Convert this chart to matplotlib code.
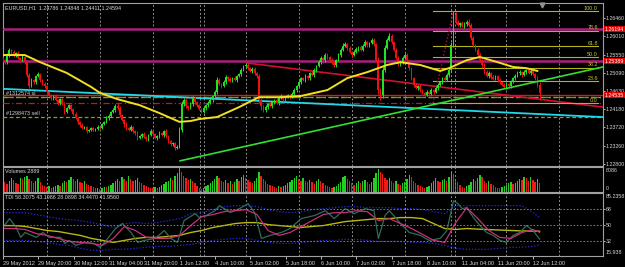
import matplotlib
matplotlib.use('Agg')
import matplotlib.pyplot as plt
import matplotlib.transforms as mtransforms
import numpy as np

#------------------------------------------------------------------------------
# Data (EURUSD H1, prices in pips * 1e-4)
#------------------------------------------------------------------------------
first_open = 12545
closes = [12541,12536,12552,12567,12562,12554,12559,12547,12541,12549,
          12536,12504,12476,12491,12486,12501,12506,12491,12481,12476,
          12461,12453,12446,12451,12441,12433,12443,12431,12411,12421,
          12428,12418,12406,12396,12386,12378,12371,12373,12363,12366,
          12371,12366,12368,12373,12371,12381,12386,12396,12401,12411,
          12416,12426,12421,12403,12391,12381,12371,12366,12373,12363,
          12358,12345,12350,12355,12348,12343,12353,12363,12355,12345,
          12350,12358,12353,12363,12350,12338,12330,12333,12320,12323,
          12366,12431,12441,12426,12421,12431,12446,12436,12428,12418,
          12411,12421,12428,12433,12441,12451,12461,12491,12481,12476,
          12486,12499,12494,12489,12496,12491,12501,12506,12516,12526,
          12529,12521,12514,12519,12509,12501,12441,12426,12416,12423,
          12431,12426,12436,12441,12433,12446,12451,12443,12448,12453,
          12448,12456,12466,12476,12486,12496,12491,12501,12496,12509,
          12504,12516,12526,12536,12547,12541,12554,12549,12541,12534,
          12529,12541,12554,12567,12577,12582,12572,12562,12554,12562,
          12569,12574,12567,12577,12587,12579,12584,12592,12582,12541,
          12466,12453,12516,12572,12592,12602,12587,12567,12547,12531,
          12536,12547,12554,12541,12521,12496,12479,12471,12476,12466,
          12459,12453,12461,12456,12466,12461,12471,12479,12486,12496,
          12491,12504,12516,12579,12655,12637,12629,12634,12627,12632,
          12637,12629,12597,12579,12567,12554,12541,12529,12511,12501,
          12509,12499,12494,12501,12491,12486,12479,12474,12481,12476,
          12486,12496,12501,12509,12511,12504,12511,12516,12509,12514,
          12506,12496,12479,12459]
upper_wick = [4,3,6,5,3,4,2,5,3,4,3,5,4,6,3,4,5,3,2,4,
              3,2,4,3,5,2,3,4,6,3,4,2,3,5,3,2,4,3,2,3,
              2,3,2,4,3,2,3,5,4,3,6,5,7,4,3,2,4,3,5,2,
              3,4,2,3,5,3,2,4,3,2,3,4,2,3,4,3,2,3,2,4,
              6,8,5,4,3,5,6,4,3,2,3,4,3,5,4,3,6,8,4,3,
              5,6,3,4,3,5,4,3,5,4,5,4,3,5,4,3,6,4,3,5,
              3,4,3,2,4,3,5,3,2,4,3,4,5,3,6,4,3,5,4,3,
              4,5,3,6,4,3,6,4,3,5,4,3,5,4,6,5,3,4,3,5,
              4,3,5,4,6,3,4,5,4,3,8,6,9,6,5,7,4,3,5,4,
              3,5,6,4,3,4,3,5,3,4,3,2,4,3,5,3,4,5,3,4,
              5,4,6,7,10,6,5,4,6,5,4,7,5,4,3,5,4,3,4,5,
              4,3,5,4,3,4,3,5,4,3,5,4,6,4,5,3,6,4,5,4,
              5,4,5,6]
lower_wick = [3,5,4,3,5,4,6,3,4,3,5,4,6,3,4,5,3,4,3,5,
              4,3,5,4,3,5,4,3,6,4,3,5,4,3,5,4,3,4,5,3,
              3,2,4,3,2,3,4,3,5,4,3,4,5,6,4,7,5,4,3,5,
              4,5,3,4,3,5,4,3,4,3,5,4,3,5,4,6,5,4,5,3,
              4,5,6,4,5,3,4,5,4,3,4,3,5,4,3,5,4,4,3,5,
              3,4,5,3,4,3,4,3,4,3,5,4,3,4,5,6,8,9,5,4,
              4,3,5,4,3,4,3,5,4,3,4,3,4,5,3,4,3,4,5,4,
              3,4,5,3,4,6,4,5,4,3,5,4,3,5,3,4,5,4,6,3,
              4,5,3,4,3,5,4,3,5,4,10,12,8,5,4,3,5,4,3,4,
              5,4,3,4,5,4,5,3,4,5,3,4,3,4,3,4,3,4,3,4,
              4,3,5,4,5,4,3,5,3,4,5,4,5,6,4,5,4,5,4,3,
              4,5,3,4,5,4,3,4,5,3,4,3,4,3,4,5,3,4,3,4,
              3,4,5,18]
volumes = [4200,3100,2600,3500,4400,3800,3000,2700,4600,4100,
           4800,5200,4300,3400,2900,3600,4500,3200,2400,1900,
           1500,1800,1300,1600,2100,2400,2000,2800,3600,3100,
           3900,4700,4100,3500,4200,3300,2900,3400,2600,2200,
           1800,1500,1200,1400,1100,1300,1700,1500,2000,2300,
           2800,3500,4100,3600,4900,4300,3700,5100,4200,3500,
           3900,4600,3300,2800,2400,1900,1600,1400,1200,1500,
           1300,1700,2200,2600,3100,3700,4400,3800,5200,6100,
           7800,6500,5200,4600,3900,4300,3500,2800,2100,1300,
           900,1400,1800,2300,2900,3600,4200,5300,4400,3700,
           3100,3800,2900,3400,2600,3300,4100,3500,4700,5400,
           4600,3900,3300,2800,3600,4400,6400,5300,4200,3500,
           2700,2300,1900,1600,1400,1800,1500,1900,2200,2800,
           3300,3900,4600,5200,4300,3700,4400,3600,3100,3800,
           3200,2700,3500,4100,3400,2800,2300,1800,1500,1300,
           1600,2000,2600,3300,4700,5100,4200,3400,2800,2400,
           3000,3600,2900,3400,3900,3100,2600,3300,4500,6200,
           7300,6600,5800,4600,3900,4400,3500,2900,3400,2700,
           2200,2800,3300,4200,5600,4700,3600,2800,2300,1800,
           1500,1300,1600,2100,2800,3600,4400,3700,3100,3800,
           4300,3500,4800,6600,5800,4300,3100,2200,1600,1400,
           1800,2400,3300,4100,3500,4600,5500,4800,3700,3000,
           3400,2700,2200,1700,1400,1200,1500,1800,2300,2800,
           3200,2600,3000,3500,4300,3800,5000,4400,3600,4700,
           4000,3300,4100,2889]

# moving average (yellow) sampled at bar positions
ma_bars = [0,10,17,29,40,44,52,62,71,80,85,89,97,107,116,126,135,147,156,165,
           174,180,189,198,202,210,216,224,231,237,242]
ma_vals = [1.2554,1.2554,1.2536,1.2509,1.2474,1.2459,1.2443,1.2428,1.2408,1.2386,
           1.2388,1.2393,1.2398,1.2423,1.2448,1.2448,1.2451,1.2466,1.2496,1.2511,
           1.2529,1.2536,1.2529,1.2514,1.2521,1.2541,1.2549,1.2536,1.2524,1.2521,1.2514]

# TDI
tdi_bars = list(range(0, 241, 5)) + [243]
tdi_upper = [63.6,63.6,63.6,61.5,59.3,57.1,56.0,54.9,52.7,50.5,
             47.3,51.6,52.7,51.6,52.7,54.9,57.1,62.5,63.6,66.9,
             70.2,71.3,71.3,70.2,66.9,64.7,63.6,64.7,66.9,68.0,
             69.1,70.2,70.2,69.1,69.1,69.1,68.0,68.0,66.9,64.7,
             62.5,71.3,71.3,71.3,71.3,71.3,71.3,71.3,63.6,58.3]
tdi_lower = [33.1,33.1,33.1,32.0,30.9,28.7,27.6,24.4,22.2,22.2,
             23.3,23.3,24.4,25.5,26.6,26.6,27.6,28.7,30.9,33.1,
             34.2,35.3,35.3,33.1,30.9,29.8,29.8,30.9,32.0,33.1,
             33.1,34.2,34.2,33.1,32.0,32.0,32.0,30.9,30.9,29.8,
             27.6,24.4,23.3,23.3,23.3,24.4,25.5,25.5,26.6,28.1]
tdi_mid = [49.4,49.4,48.4,46.2,44.0,42.9,40.7,38.6,35.3,33.1,
           30.9,33.1,35.3,36.4,36.4,37.5,38.6,41.8,44.0,47.3,
           49.4,51.6,52.7,52.7,50.5,49.4,48.4,47.3,48.4,49.4,
           51.6,53.8,54.9,56.0,57.1,57.1,58.2,58.2,57.1,51.6,
           46.2,45.1,46.2,45.5,45.0,44.5,44.0,43.5,43.3,43.2]
tdi_signal = [46.2,46.2,45.1,40.7,38.6,35.3,32.0,30.9,29.8,27.6,
              35.3,48.4,44.0,36.4,35.3,35.3,38.6,49.4,59.3,61.5,
              64.7,65.8,66.9,61.5,44.0,38.6,41.8,48.4,54.9,61.5,
              63.6,63.6,65.8,64.7,54.9,57.1,51.6,46.2,39.7,33.1,
              30.9,52.7,69.1,57.1,44.0,36.4,35.3,41.8,45.0,42.0]
rsi_bars = [0,3,6,8,10,15,18,21,26,28,30,33,37,41,44,46,51,54,58,61,
            64,69,73,76,79,82,87,89,92,96,98,103,107,111,114,117,121,126,130,135,
            141,146,150,155,159,164,168,170,173,175,180,184,189,193,198,201,204,206,208,210,
            213,216,219,222,225,228,231,234,237,240,243]
rsi_vals = [47.3,57.1,47.3,36.4,41.8,36.4,41.8,36.4,36.4,29.8,33.1,27.6,30.9,29.8,25.5,30.9,46.2,51.6,41.8,30.9,
            33.1,35.3,44.0,35.3,30.9,54.9,62.5,58.2,60.4,65.8,71.3,63.6,68.0,73.5,63.6,35.3,38.6,41.8,46.2,57.1,
            60.4,65.8,57.1,68.0,62.5,68.0,65.8,35.3,60.4,65.8,51.6,41.8,38.6,33.1,35.3,44.0,76.7,73.5,68.0,69.1,
            58.2,49.4,41.8,38.6,33.1,30.9,38.6,41.8,49.4,44.0,34.4]

# drawn objects
hlines_red = [1.26194, 1.25389]
bid_line = 1.24535
stop_line = 1.24334
order_lines = [1.24481, 1.24476, 1.23982]
fib_levels = [0.0, 23.6, 38.2, 50.0, 61.8, 78.6, 100.0]
fib_low, fib_high = 1.24334, 1.26646
fib_bars = [194.8, 204.0, 269.4]
cyan_line = ([0.2, 271.7], [1.2469, 1.2398])
red_trend = ([110.6, 271.7], [1.2534, 1.2423])
green_trend = ([80.3, 271.7], [1.2288, 1.2524])
separators = [20.1, 44.1, 68.1, 89.3, 91.1, 110.1, 134.1, 158.1, 182.1, 202.9, 204.7, 227.8, 251.8]
price_ticks = [1.26460, 1.26010, 1.25550, 1.25090, 1.24630, 1.24180, 1.23720, 1.23260, 1.22800]
time_labels = ['29 May 2012', '29 May 20:00', '30 May 12:00', '31 May 04:00', '31 May 20:00',
               '1 Jun 12:00', '4 Jun 10:00', '5 Jun 02:00', '5 Jun 18:00', '6 Jun 10:00',
               '7 Jun 02:00', '7 Jun 18:00', '8 Jun 10:00', '11 Jun 04:00', '11 Jun 20:00', '12 Jun 12:00']

#------------------------------------------------------------------------------
# Figure
#------------------------------------------------------------------------------
W, H = 625, 267
BG = 'black'
FG = '#D8D8D8'
FRAME = '#A0A0A0'
FS = 3.9      # text size
FSA = 3.8     # right-axis label size
plt.rcParams['font.family'] = ['Liberation Sans', 'DejaVu Sans']

fig = plt.figure(figsize=(W / 100, H / 100), dpi=100, facecolor=BG)

def panel(top, bottom):
    a = fig.add_axes([3 / W, 1 - bottom / H, 600 / W, (bottom - top) / H])
    a.set_facecolor(BG)
    for s in a.spines.values():
        s.set_color(FRAME)
        s.set_linewidth(0.8)
    a.set_xlim(0.18, 271.7)
    a.tick_params(axis='x', bottom=False, labelbottom=False)
    a.yaxis.tick_right()
    a.tick_params(axis='y', colors=FG, labelsize=FSA, length=1.5, width=0.6, pad=0.4)
    for b in separators:
        a.axvline(b, color='#8C8C8C', lw=0.7, ls=(0, (2, 2)))
    return a

ax = panel(3, 166)
axv = panel(167, 192)
axt = panel(193, 256)

# --- main price panel --------------------------------------------------------
c = np.array(closes) / 1e4
o = np.array([first_open] + closes[:-1]) / 1e4
hi = np.maximum(o, c) + np.array(upper_wick) / 1e4
lo = np.minimum(o, c) - np.array(lower_wick) / 1e4
idx = np.arange(len(c))
cols = np.where(c >= o, '#22E022', '#F01010')

ax.vlines(idx, lo, hi, colors=cols, lw=0.7, zorder=4)
ax.bar(idx, np.maximum(np.abs(c - o), 0.00004), bottom=np.minimum(o, c),
       width=0.75, color=cols, lw=0, zorder=5)

for p in hlines_red:
    ax.axhline(p, color='#6A1A6A', lw=2.2, zorder=2)
    ax.axhline(p, color='#D8143C', lw=1.0, zorder=3)
ax.axhline(bid_line, color='#E01420', lw=1.0, zorder=3)
ax.axhline(stop_line, color='#C81030', lw=0.9, ls=(0, (5, 2, 1, 2)), zorder=3)
ax.axhline(order_lines[0], color='#30B830', lw=0.9, ls=(0, (5, 2, 1, 2)), zorder=3)
ax.axhline(order_lines[1], color='#8CA020', lw=0.9, ls=(0, (3, 2)), zorder=3)
ax.axhline(order_lines[2], color='#8CA020', lw=0.9, ls=(0, (3, 2)), zorder=3)
ax.text(1.5, order_lines[0] + 0.0003, '#1312574 sl', color=FG, fontsize=FS, va='bottom')
ax.text(1.5, order_lines[2] + 0.0003, '#1298473 sell', color=FG, fontsize=FS, va='bottom')

ax.plot(*cyan_line, color='#20D8E8', lw=1.3, zorder=3)
ax.plot(*red_trend, color='#D01030', lw=1.2, zorder=3)
ax.plot(*green_trend, color='#30E030', lw=1.2, zorder=6)
ax.plot(ma_bars, ma_vals, color='#F0E020', lw=1.4, zorder=6)

for lvl in fib_levels:
    p = fib_low + (fib_high - fib_low) * lvl / 100
    ax.plot([fib_bars[0], fib_bars[2]], [p, p], color='#B4B418', lw=0.8, zorder=3)
    ax.text(fib_bars[2], p + 0.0001, '%.1f' % lvl, color='#C8C830', fontsize=FS,
            ha='right', va='bottom', zorder=7)
ax.plot([fib_bars[0], fib_bars[1]], [fib_low, fib_high], color='#B01050', lw=1.0,
        ls=(0, (1, 1.5)), zorder=3)

ax.set_ylim(1.22750, 1.26848)
ax.set_yticks(price_ticks)
ax.set_yticklabels(['%.5f' % t for t in price_ticks])
ax.plot([244], [1.2680], marker='v', color='#909090', ms=3.5, clip_on=False, zorder=8)

trans = mtransforms.blended_transform_factory(ax.transAxes, ax.transData)
for p in hlines_red + [bid_line]:
    ax.text(1.003, p, '%.5f' % p, transform=trans, color='white', fontsize=FSA,
            va='center', ha='left', zorder=9,
            bbox=dict(boxstyle='square,pad=0.12', fc='#E00000', ec='none'))

fig.text(5 / W, 1 - 8 / H, 'EURUSD,H1  1.24786 1.24848 1.24411 1.24594',
         color=FG, fontsize=FS, va='center', ha='left')

# --- volumes ------------------------------------------------------------------
v = np.array(volumes)
vcols = ['#22D022'] + ['#22D022' if v[i] > v[i - 1] else '#F01818' for i in range(1, len(v))]
axv.bar(idx, v, width=0.6, color=vcols, lw=0)
axv.set_ylim(0, 8086)
axv.set_yticks([])
axv.text(1.005, 0.96, '8086', transform=axv.transAxes, color=FG, fontsize=FSA, va='top')
axv.text(1.005, 0.06, '0', transform=axv.transAxes, color=FG, fontsize=FSA, va='bottom')
axv.text(0.004, 0.93, 'Volumes 2889', transform=axv.transAxes, color=FG, fontsize=FS, va='top')

# --- TDI ----------------------------------------------------------------------
axt.plot(tdi_bars, tdi_upper, color='#2828E8', lw=0.9, ls=(0, (1, 1.5)))
axt.plot(tdi_bars, tdi_lower, color='#2828E8', lw=0.9, ls=(0, (1, 1.5)))
axt.plot(tdi_bars, tdi_mid, color='#B8B810', lw=1.0)
axt.plot(rsi_bars, rsi_vals, color='#2E6E58', lw=0.9)
axt.plot(tdi_bars, tdi_signal, color='#C8307A', lw=0.9)
for lv in [68, 50, 32]:
    axt.axhline(lv, color='#8C8C8C', lw=0.6, ls=(0, (2, 2)))
axt.set_ylim(15.938, 85.2358)
axt.set_yticks([68, 50, 32])
axt.set_yticklabels(['68', '50', '32'])
axt.text(1.005, 0.985, '85.2358', transform=axt.transAxes, color=FG, fontsize=FSA, va='top')
axt.text(1.005, 0.02, '15.938', transform=axt.transAxes, color=FG, fontsize=FSA, va='bottom')
axt.text(0.004, 0.97, 'TDI 58.3075 43.1986 28.0898 34.4470 41.9560', transform=axt.transAxes,
         color=FG, fontsize=FS, va='top')

axt.tick_params(axis='x', bottom=True, labelbottom=True, colors=FG, labelsize=4.0,
                length=2.5, width=0.6, pad=1)
axt.set_xticks(list(range(0, 241, 16)))
axt.set_xticklabels(time_labels, ha='left')

fig.savefig('out.png', dpi=100, facecolor=BG)
